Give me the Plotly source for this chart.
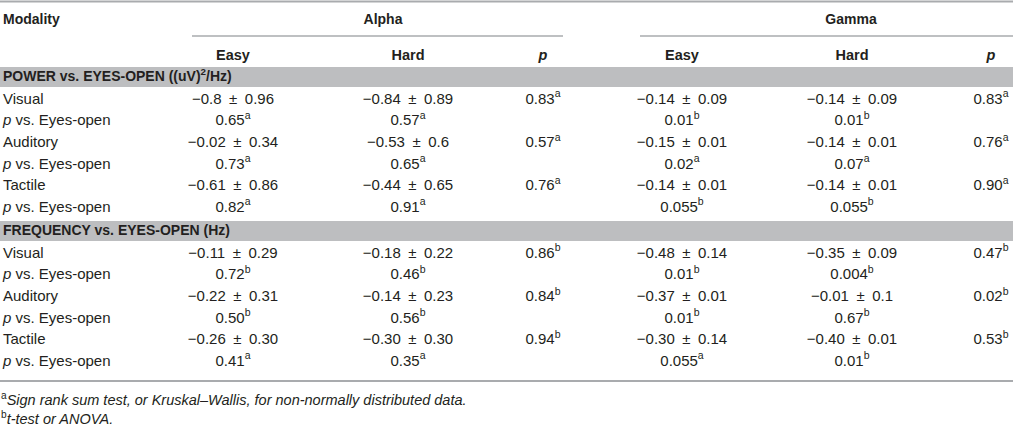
import plotly.graph_objects as go

# ---- table content ----
modalities = ["Visual", "Auditory", "Tactile"]

pow_alpha_easy = ["−0.8 ± 0.96", "−0.02 ± 0.34", "−0.61 ± 0.86"]
pow_alpha_easy_p = [("0.65", "a"), ("0.73", "a"), ("0.82", "a")]
pow_alpha_hard = ["−0.84 ± 0.89", "−0.53 ± 0.6", "−0.44 ± 0.65"]
pow_alpha_hard_p = [("0.57", "a"), ("0.65", "a"), ("0.91", "a")]
pow_alpha_p = [("0.83", "a"), ("0.57", "a"), ("0.76", "a")]
pow_gamma_easy = ["−0.14 ± 0.09", "−0.15 ± 0.01", "−0.14 ± 0.01"]
pow_gamma_easy_p = [("0.01", "b"), ("0.02", "a"), ("0.055", "b")]
pow_gamma_hard = ["−0.14 ± 0.09", "−0.14 ± 0.01", "−0.14 ± 0.01"]
pow_gamma_hard_p = [("0.01", "b"), ("0.07", "a"), ("0.055", "b")]
pow_gamma_p = [("0.83", "a"), ("0.76", "a"), ("0.90", "a")]

frq_alpha_easy = ["−0.11 ± 0.29", "−0.22 ± 0.31", "−0.26 ± 0.30"]
frq_alpha_easy_p = [("0.72", "b"), ("0.50", "b"), ("0.41", "a")]
frq_alpha_hard = ["−0.18 ± 0.22", "−0.14 ± 0.23", "−0.30 ± 0.30"]
frq_alpha_hard_p = [("0.46", "b"), ("0.56", "b"), ("0.35", "a")]
frq_alpha_p = [("0.86", "b"), ("0.84", "b"), ("0.94", "b")]
frq_gamma_easy = ["−0.48 ± 0.14", "−0.37 ± 0.01", "−0.30 ± 0.14"]
frq_gamma_easy_p = [("0.01", "b"), ("0.01", "b"), ("0.055", "a")]
frq_gamma_hard = ["−0.35 ± 0.09", "−0.01 ± 0.1", "−0.40 ± 0.01"]
frq_gamma_hard_p = [("0.004", "b"), ("0.67", "b"), ("0.01", "b")]
frq_gamma_p = [("0.47", "b"), ("0.02", "b"), ("0.53", "b")]

section_titles = ["POWER vs. EYES-OPEN ((uV)<sup>2</sup>/Hz)",
                  "FREQUENCY vs. EYES-OPEN (Hz)"]
band_names = ["Alpha", "Gamma"]
sub_headers = ["Easy", "Hard", "<i>p</i>"]
footnotes = [("a", "Sign rank sum test, or Kruskal–Wallis, for non-normally distributed data."),
             ("b", "t-test or ANOVA.")]

# ---- layout constants (pixels) ----
W, H = 1013, 429
FONT = "Liberation Sans, Arial, sans-serif"
TXT = "#231f20"
BAND = "#bdbec0"
RULE = "#a9abae"
col_x = [233, 408, 543, 682, 852, 991]
alpha_x, gamma_x = 383, 851
block_top = [100, 254]
step = 21.6
band_y = [(67, 87), (221, 241)]

sp = "\u2002"


def fmt(v):
    return v.replace(" ± ", sp + "±" + sp)


def sup(pair):
    return pair[0] + "<sup>" + pair[1] + "</sup>"


fig = go.Figure()


def add_text(xs, ys, texts, pos="middle center", size=15):
    fig.add_trace(go.Scatter(
        x=xs, y=ys, text=texts, mode="text", textposition=pos,
        textfont=dict(family=FONT, size=size, color=TXT),
        hoverinfo="skip", showlegend=False))


blocks = [
    [pow_alpha_easy, pow_alpha_easy_p, pow_alpha_hard, pow_alpha_hard_p, pow_alpha_p,
     pow_gamma_easy, pow_gamma_easy_p, pow_gamma_hard, pow_gamma_hard_p, pow_gamma_p],
    [frq_alpha_easy, frq_alpha_easy_p, frq_alpha_hard, frq_alpha_hard_p, frq_alpha_p,
     frq_gamma_easy, frq_gamma_easy_p, frq_gamma_hard, frq_gamma_hard_p, frq_gamma_p],
]

# headers
add_text([3], [20], ["<b>Modality</b>"], "middle right", size=14)
add_text([alpha_x, gamma_x], [20, 20], ["<b>" + b + "</b>" for b in band_names], size=14)
add_text(col_x, [56] * 6, ["<b>" + s + "</b>" for s in sub_headers * 2], size=14.5)

for bi, blk in enumerate(blocks):
    (ae, aep, ah, ahp, ap, ge, gep, gh, ghp, gp) = blk
    y_val = [block_top[bi] + 2 * i * step for i in range(len(modalities))]
    y_p = [y + step for y in y_val]
    add_text([3], [(band_y[bi][0] + band_y[bi][1]) / 2], ["<b>" + section_titles[bi] + "</b>"],
             "middle right", size=14)
    add_text([3] * 3, y_val, modalities, "middle right")
    add_text([3] * 3, y_p, ["<i>p</i> vs. Eyes-open"] * 3, "middle right")
    add_text([col_x[0]] * 3, y_val, [fmt(v) for v in ae])
    add_text([col_x[0]] * 3, y_p, [sup(v) for v in aep])
    add_text([col_x[1]] * 3, y_val, [fmt(v) for v in ah])
    add_text([col_x[1]] * 3, y_p, [sup(v) for v in ahp])
    add_text([col_x[2]] * 3, y_val, [sup(v) for v in ap])
    add_text([col_x[3]] * 3, y_val, [fmt(v) for v in ge])
    add_text([col_x[3]] * 3, y_p, [sup(v) for v in gep])
    add_text([col_x[4]] * 3, y_val, [fmt(v) for v in gh])
    add_text([col_x[4]] * 3, y_p, [sup(v) for v in ghp])
    add_text([col_x[5]] * 3, y_val, [sup(v) for v in gp])

add_text([1, 1], [401, 420],
         ["<sup>" + k + "</sup><i>" + t + "</i>" for k, t in footnotes], "middle right", size=14.5)

shapes = []
for (y0, y1) in band_y:
    shapes.append(dict(type="rect", x0=0, x1=W, y0=y0, y1=y1, xref="x", yref="y",
                       fillcolor=BAND, line=dict(width=0), layer="below"))
for (x0, x1, y, w) in [(0, W, 1.5, 2), (192, 563, 36, 1.5), (640, W, 36, 1.5), (0, W, 381, 2)]:
    shapes.append(dict(type="line", x0=x0, x1=x1, y0=y, y1=y, xref="x", yref="y",
                       line=dict(color=RULE, width=w)))

fig.update_layout(
    width=W, height=H, margin=dict(l=0, r=0, t=0, b=0),
    paper_bgcolor="white", plot_bgcolor="white", shapes=shapes,
    xaxis=dict(range=[0, W], visible=False, fixedrange=True),
    yaxis=dict(range=[H, 0], visible=False, fixedrange=True),
)

fig.write_html("out.html", config={"displayModeBar": False},
               post_script=["document.body.style.margin='0';document.body.style.overflow='hidden';"])
